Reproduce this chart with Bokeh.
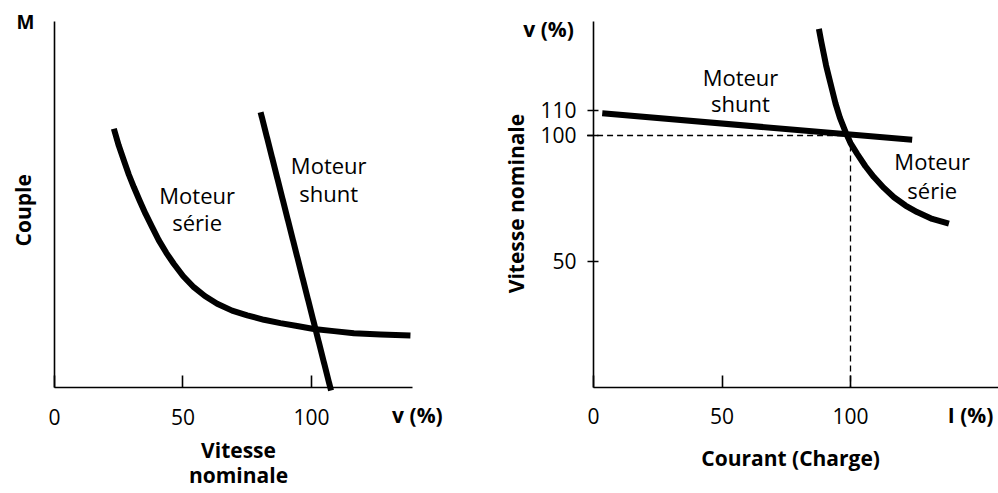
from bokeh.plotting import figure
from bokeh.layouts import row
from bokeh.models import Label, FixedTicker, Range1d
from bokeh.embed import file_html
from bokeh.resources import INLINE
import math

# ---------- data: left chart (Couple M vs Vitesse v %) ----------
left_xticks = [0, 50, 100]
serie_v = [23.1, 25.0, 27.0, 28.9, 30.9, 33.1, 35.4, 38.0, 40.6, 43.5, 46.4, 50.1, 54.2,
           58.5, 63.3, 69.1, 75.0, 81.5, 87.9, 94.4, 100.9, 108.7, 116.5, 126.9, 138.5]
serie_m = [70.7, 66.1, 62.0, 58.2, 54.7, 51.1, 47.5, 43.8, 40.2, 36.8, 33.8, 30.4, 27.4,
           25.0, 22.9, 21.0, 19.7, 18.5, 17.6, 16.8, 16.0, 15.4, 14.8, 14.5, 14.2]
shunt_v = [80.2, 107.6]
shunt_m = [75.2, -0.8]

# ---------- data: right chart (Vitesse v % vs Courant I %) ----------
right_xticks = [0, 50, 100]
right_yticks = [50, 100, 110]
serie_i = [87.7, 88.6, 89.6, 90.5, 91.6, 92.9, 94.2, 95.9, 98.1, 100.0, 102.6, 105.8, 109.1,
           113.0, 116.9, 121.4, 125.9, 131.8, 138.3]
serie_n = [142.3, 137.4, 132.4, 127.8, 123.2, 117.9, 112.6, 107.0, 101.3, 97.0, 92.7, 87.8, 83.5,
           79.2, 75.5, 72.2, 69.6, 66.9, 65.0]
shunt_i = [3.4, 124.0]
shunt_n = [108.8, 98.3]
nominal_i = 100
nominal_n = 100

FONT = "Open Sans"
TXT = "#000000"
H = 492


def base_fig(fw, fh, xr, yr, xbounds, ybounds):
    p = figure(frame_width=fw, frame_height=fh, x_range=Range1d(*xr), y_range=Range1d(*yr),
               output_backend="svg", toolbar_location=None,
               min_border_left=0, min_border_right=0, min_border_top=0, min_border_bottom=0)
    p.outline_line_color = None
    p.xgrid.visible = False
    p.ygrid.visible = False
    p.background_fill_color = "white"
    p.border_fill_color = "white"
    for ax, b in ((p.xaxis[0], xbounds), (p.yaxis[0], ybounds)):
        ax.fixed_location = 0
        ax.bounds = b
        ax.axis_line_width = 1.6
        ax.axis_line_color = "black"
        ax.major_tick_line_color = "black"
        ax.major_tick_line_width = 1.6
        ax.minor_tick_line_color = None
        ax.major_label_text_font = FONT
        ax.major_label_text_font_size = "21px"
        ax.major_label_text_color = TXT
    return p


def lab(p, x, y, text, bold=False, size="22px", angle=0.0, baseline="alphabetic"):
    p.add_layout(Label(x=x, y=y, text=text, text_font=FONT, text_font_size=size,
                       text_font_style="bold" if bold else "normal", text_color=TXT,
                       text_align="center", text_baseline=baseline, angle=angle))


# ---------- left figure ----------
pl = base_fig(478, H, (-21.01, 164.98), ((387 - H) / 3.66, 105.74), (0, 139.3), (0, 100))
pl.xaxis[0].ticker = FixedTicker(ticks=left_xticks)
pl.xaxis[0].major_tick_in = 12
pl.xaxis[0].major_tick_out = 0
pl.xaxis[0].major_label_standoff = 21
pl.yaxis[0].ticker = FixedTicker(ticks=[])
pl.yaxis[0].major_tick_in = 0
pl.yaxis[0].major_tick_out = 0

pl.line(serie_v, serie_m, line_width=6, line_color="black", line_join="round", line_cap="butt")
pl.line(shunt_v, shunt_m, line_width=6, line_color="black", line_cap="butt")

lab(pl, -11.3, 100.0, "M", bold=True, size="19px")
lab(pl, -12.3, 48.4, "Couple", bold=True, size="21px", angle=math.pi / 2)
lab(pl, 141.2, -7.6, "v (%)", bold=True, size="21px")
lab(pl, 71.6, -17.2, "Vitesse", bold=True, size="21px")
lab(pl, 71.6, -24.0, "nominale", bold=True, size="21px")
lab(pl, 55.5, 52.5, "Moteur")
lab(pl, 55.5, 45.2, "série")
lab(pl, 106.7, 60.9, "Moteur")
lab(pl, 106.7, 53.1, "shunt")

# ---------- right figure ----------
pr = base_fig(520, H, (-44.75, 157.59), ((387 - H) / 2.52, 153.57), (0, 157.59), (0, 145.2))
pr.xaxis[0].ticker = FixedTicker(ticks=right_xticks)
pr.xaxis[0].major_tick_in = 12
pr.xaxis[0].major_tick_out = 0
pr.xaxis[0].major_label_standoff = 21
pr.yaxis[0].ticker = FixedTicker(ticks=right_yticks)
pr.yaxis[0].major_tick_in = 5
pr.yaxis[0].major_tick_out = 6
pr.yaxis[0].major_label_standoff = 11

pr.line([-2.5, nominal_i], [nominal_n, nominal_n], line_width=1.3, line_color="black", line_dash="6 4")
pr.line([nominal_i, nominal_i], [nominal_n, 0], line_width=1.3, line_color="black", line_dash="6 4")
pr.line(shunt_i, shunt_n, line_width=6, line_color="black", line_cap="butt")
pr.line(serie_i, serie_n, line_width=6, line_color="black", line_join="round", line_cap="butt")

lab(pr, -17.5, 142.1, "v (%)", bold=True, size="21px")
lab(pr, -30.3, 73.0, "Vitesse nominale", bold=True, size="21px", angle=math.pi / 2)
lab(pr, 146.7, -11.1, "I (%)", bold=True, size="21px")
lab(pr, 76.7, -28.0, "Courant (Charge)", bold=True, size="21px")
lab(pr, 57.2, 123.4, "Moteur")
lab(pr, 57.2, 112.7, "shunt")
lab(pr, 131.8, 89.7, "Moteur")
lab(pr, 131.8, 78.5, "série")

layout = row(pl, pr)
open("out.html", "w").write(file_html(layout, INLINE))
